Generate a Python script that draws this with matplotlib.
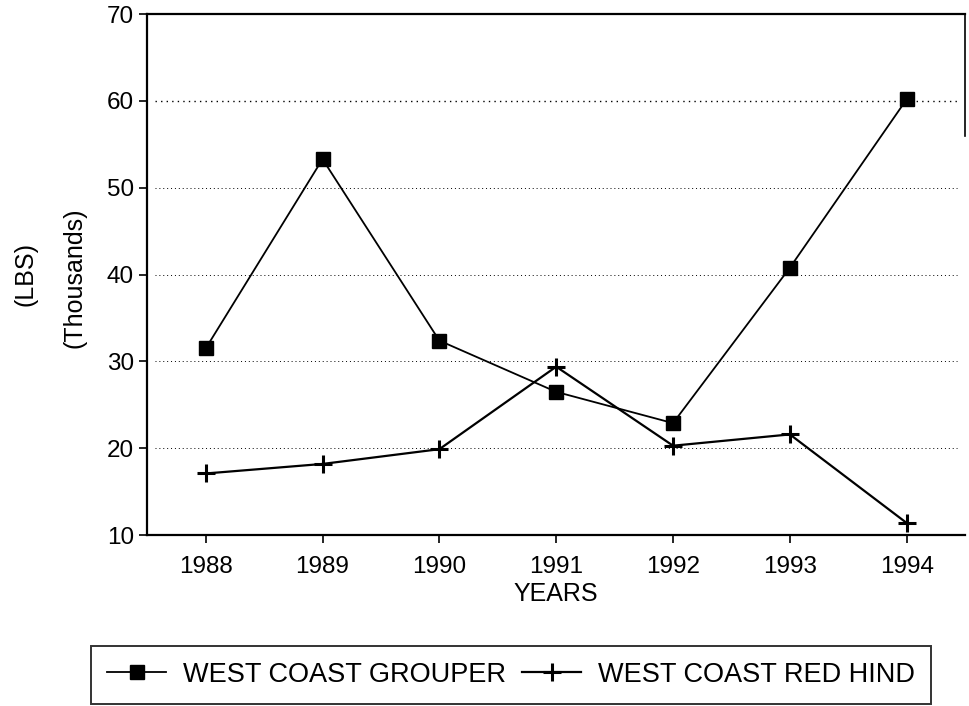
import matplotlib
matplotlib.use("Agg")
import matplotlib.pyplot as plt

plt.rcParams['font.family'] = ['Liberation Sans', 'DejaVu Sans']

years = [1988, 1989, 1990, 1991, 1992, 1993, 1994]
grouper = [31.5, 53.3, 32.4, 26.5, 22.9, 40.8, 60.2]
red_hind = [17.1, 18.2, 19.9, 29.4, 20.3, 21.6, 11.4]
yticks = [10, 20, 30, 40, 50, 60, 70]

fig = plt.figure(figsize=(9.69, 7.06), dpi=100)
ax = fig.add_axes([0.152, 0.242, 0.844, 0.738])

# dotted grid lines like the scanned original
for v in yticks[1:-1]:
    ax.axhline(v, xmin=0.01, xmax=0.99, color='black', linestyle=(0, (1, 3)),
               linewidth=0.7 if v < 60 else 1.0, zorder=1)

ax.plot(years, grouper, color='black', linewidth=1.3, marker='s',
        markersize=10, label='WEST COAST GROUPER', zorder=3)
ax.plot(years, red_hind, color='black', linewidth=1.6, marker='+',
        markersize=13, markeredgewidth=2.2, label='WEST COAST RED HIND', zorder=3)

ax.set_xlim(1987.5, 1994.5)
ax.set_ylim(10, 70)
ax.set_xticks(years)
ax.set_yticks(yticks)
ax.tick_params(axis='both', labelsize=17.5, length=6, width=1.2, direction='out')
ax.tick_params(axis='x', pad=9)

for s in ['left', 'top', 'bottom']:
    ax.spines[s].set_linewidth(1.6)
ax.spines['right'].set_linewidth(1.2)
ax.spines['right'].set_bounds(56, 70)

ax.set_xlabel('YEARS', fontsize=18, labelpad=3)
fig.text(0.026, 0.612, '(LBS)', rotation=90, fontsize=18, ha='center', va='center')
fig.text(0.077, 0.606, '(Thousands)', rotation=90, fontsize=18, ha='center', va='center')

leg = fig.legend(loc='center', bbox_to_anchor=(0.527, 0.044), ncol=2, fontsize=19.5,
                 frameon=True, fancybox=False, edgecolor='black', handlelength=2.2,
                 handletextpad=0.6, columnspacing=0.6, borderpad=0.6)
leg.get_frame().set_linewidth(1.4)

fig.savefig('out.png', dpi=100)
